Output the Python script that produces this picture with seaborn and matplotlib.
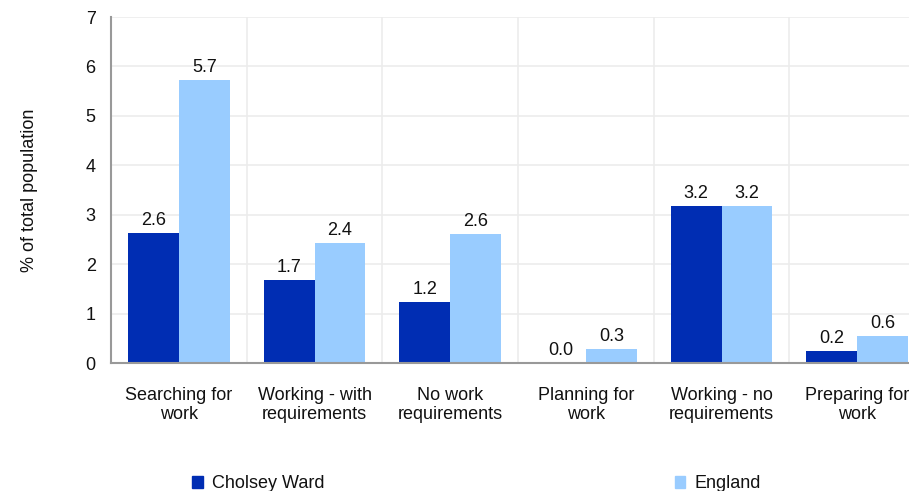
import matplotlib
matplotlib.use("Agg")
import matplotlib.pyplot as plt
import matplotlib.patches as mpatches
import seaborn as sns
import pandas as pd
import numpy as np

categories = ["Searching for\nwork", "Working - with\nrequirements", "No work\nrequirements",
              "Planning for\nwork", "Working - no\nrequirements", "Preparing for\nwork"]
cholsey = [2.63, 1.68, 1.23, 0.0, 3.18, 0.24]
england = [5.73, 2.43, 2.61, 0.28, 3.18, 0.55]
series = ["Cholsey Ward", "England"]
colors = ["#002db3", "#99ccff"]

df = pd.DataFrame({
    "category": categories * 2,
    "value": cholsey + england,
    "area": [series[0]] * len(categories) + [series[1]] * len(categories),
})

sns.set_style("white")
plt.rcParams["font.family"] = ["Liberation Sans", "DejaVu Sans"]
plt.rcParams["text.color"] = "#111111"
fs = 13

fig = plt.figure(figsize=(9.09, 4.91), dpi=100)
ax = fig.add_axes([111 / 909, 1 - 363 / 491, (925 - 111) / 909, (363 - 17) / 491])

sns.barplot(data=df, x="category", y="value", hue="area", palette=colors,
            width=0.75, gap=0, saturation=1, linewidth=0, legend=False, ax=ax)

for cont in ax.containers:
    labels = [f"{b.get_height():.1f}" for b in cont]
    ax.bar_label(cont, labels=labels, padding=3, fontsize=fs, color="#111111")

ax.set_xlim(-0.5, len(categories) - 0.5)
ax.set_ylim(0, 7)
ax.set_yticks(range(0, 8))
ax.set_xticks(np.arange(len(categories) + 1) - 0.5, minor=True)
ax.tick_params(axis="x", which="major", length=0, pad=17, labelsize=fs, labelcolor="#111111")
ax.tick_params(axis="x", which="minor", length=5, color="#999999", width=1.2)
ax.tick_params(axis="y", length=5, color="#999999", width=1.2, labelsize=fs, pad=6,
               labelcolor="#111111")
ax.set_xlabel("")
ax.set_ylabel("% of total population", fontsize=fs, labelpad=34, color="#111111")

ax.grid(axis="y", color="#ececec", lw=1.2)
ax.grid(axis="x", which="minor", color="#ececec", lw=1.2)
ax.set_axisbelow(True)
for s in ["top", "right"]:
    ax.spines[s].set_visible(False)
for s in ["left", "bottom"]:
    ax.spines[s].set_color("#999999")
    ax.spines[s].set_linewidth(1.5)

handles = [mpatches.Patch(color=c, label=l) for c, l in zip(colors, series)]
fig.legend(handles=handles, ncol=2, loc="center left", bbox_to_anchor=(192 / 909, 1 - 484 / 491),
           frameon=False, fontsize=fs, handlelength=0.6, handleheight=0.6,
           handletextpad=0.5, columnspacing=19.4, borderaxespad=0, borderpad=0)

fig.savefig("out.png", dpi=100)
